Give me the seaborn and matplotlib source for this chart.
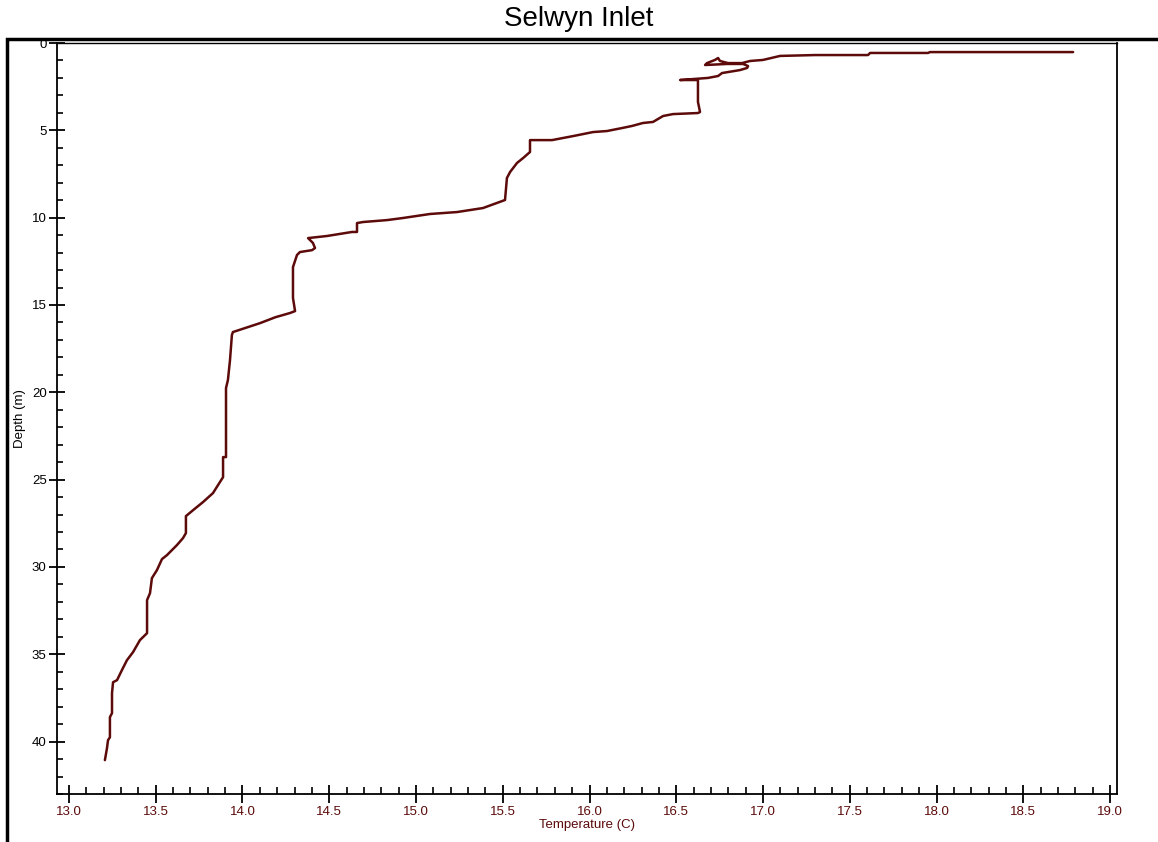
import matplotlib
matplotlib.use("Agg")
import matplotlib.pyplot as plt
from matplotlib.patches import Rectangle
from matplotlib.ticker import MultipleLocator
import pandas as pd
import seaborn as sns

# CTD cast, Selwyn Inlet: temperature (C) against depth (m), surface downward
temperature = [
    18.787, 17.962, 17.951, 17.617, 17.605, 17.300, 17.098, 17.000, 16.925,
    16.879, 16.798, 16.752, 16.741, 16.723, 16.677, 16.666, 16.793, 16.885,
    16.914, 16.908, 16.867, 16.764, 16.741, 16.683, 16.522, 16.625, 16.625,
    16.637, 16.625, 16.481, 16.424, 16.366, 16.308, 16.245, 16.187, 16.101,
    16.020, 15.905, 15.847, 15.784, 15.657, 15.657, 15.617, 15.582, 15.542,
    15.524, 15.513, 15.386, 15.236, 15.081, 14.925, 14.833, 14.695, 14.660,
    14.660, 14.631, 14.487, 14.378, 14.406, 14.418, 14.401, 14.331, 14.314,
    14.291, 14.291, 14.303, 14.274, 14.190, 14.101, 13.945, 13.939, 13.928,
    13.916, 13.905, 13.905, 13.888, 13.888, 13.870, 13.830, 13.772, 13.715,
    13.674, 13.674, 13.657, 13.622, 13.565, 13.536, 13.507, 13.478, 13.467,
    13.450, 13.450, 13.409, 13.369, 13.334, 13.305, 13.277, 13.254, 13.248,
    13.248, 13.236, 13.236, 13.225, 13.219, 13.207,
]
depth = [
    0.52, 0.52, 0.57, 0.57, 0.69, 0.69, 0.74, 0.97, 1.03,
    1.15, 1.15, 1.03, 0.86, 0.97, 1.15, 1.26, 1.20, 1.20,
    1.32, 1.43, 1.55, 1.72, 1.89, 2.00, 2.12, 2.12, 3.38,
    3.95, 4.01, 4.07, 4.18, 4.52, 4.58, 4.75, 4.87, 5.04,
    5.10, 5.33, 5.44, 5.56, 5.56, 6.24, 6.59, 6.87, 7.39,
    7.73, 8.99, 9.45, 9.68, 9.79, 10.02, 10.14, 10.25, 10.31,
    10.82, 10.82, 11.05, 11.17, 11.45, 11.74, 11.86, 11.97, 12.14,
    12.83, 14.60, 15.35, 15.46, 15.70, 16.04, 16.55, 16.72, 18.16,
    19.30, 19.76, 23.71, 23.71, 24.86, 25.14, 25.77, 26.29, 26.75,
    27.09, 28.06, 28.35, 28.75, 29.32, 29.55, 30.18, 30.64, 31.50,
    31.90, 33.79, 34.19, 34.88, 35.34, 35.91, 36.48, 36.60, 37.23,
    38.37, 38.60, 39.75, 39.92, 40.38, 41.06,
]
x_ticks = [13.0, 13.5, 14.0, 14.5, 15.0, 15.5, 16.0, 16.5, 17.0, 17.5, 18.0, 18.5, 19.0]
y_ticks = [0, 5, 10, 15, 20, 25, 30, 35, 40]

line_color = "#5c0a0a"

sns.set_style("white")
plt.rcParams["font.family"] = ["Liberation Sans", "DejaVu Sans"]
plt.rcParams["text.color"] = "black"
plt.rcParams["axes.labelcolor"] = "black"
plt.rcParams["ytick.color"] = "black"
plt.rcParams["xtick.color"] = "black"

df = pd.DataFrame({"temperature": temperature, "depth": depth})

fig = plt.figure(figsize=(11.58, 8.42), dpi=100)
ax = fig.add_axes([57 / 1158, 1 - 794 / 842, (1117 - 57) / 1158, (794 - 43) / 842])

sns.lineplot(data=df, x="temperature", y="depth", sort=False, estimator=None,
             color=line_color, lw=1.8, ax=ax)

ax.set_xlim(12.931, 19.04)
ax.set_ylim(43.0, 0)

ax.set_xticks(x_ticks)
ax.set_xticklabels([f"{t:.1f}" for t in x_ticks], color=line_color, fontsize=9.5)
ax.set_yticks(y_ticks)
ax.set_yticklabels([str(t) for t in y_ticks], fontsize=9.5)
ax.xaxis.set_minor_locator(MultipleLocator(0.1))
ax.yaxis.set_minor_locator(MultipleLocator(1))
ax.tick_params(axis="x", which="major", direction="inout", length=13, width=1.3, pad=2)
ax.tick_params(axis="x", which="minor", direction="in", length=5, width=1.2)
ax.tick_params(axis="y", which="major", direction="inout", length=11, width=1.3, pad=2)
ax.tick_params(axis="y", which="minor", direction="in", length=4.5, width=1.2)
ax.tick_params(bottom=True, left=True, which="both")

for side, sp in ax.spines.items():
    sp.set_color("black")
    sp.set_linewidth(1.3 if side in ("left", "bottom", "right") else 1.0)

ax.set_xlabel("Temperature (C)", color=line_color, fontsize=9.5, labelpad=1)
ax.set_ylabel("Depth (m)", fontsize=9.5, labelpad=4)
ax.grid(False)

# outer frame that runs off the right and bottom edges
fig.patches.append(Rectangle((7 / 1158, -0.1), 1.2, 1.1 - 39 / 842, transform=fig.transFigure,
                             fill=False, edgecolor="black", lw=2.5))
fig.text(0.5, 1 - 19 / 842, "Selwyn Inlet", ha="center", va="center", fontsize=20, color="black")

fig.savefig("out.png", dpi=100, facecolor="white")
